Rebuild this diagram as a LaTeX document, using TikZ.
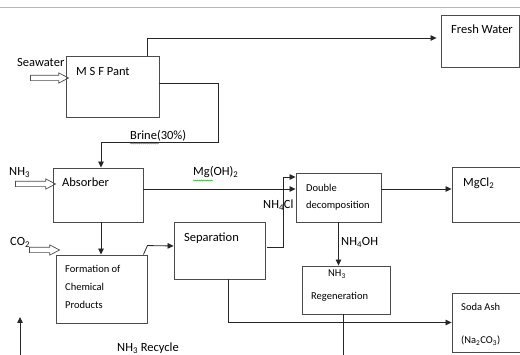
\documentclass[tikz,border=0pt]{standalone}
\usepackage{fontspec}
\setmainfont{Carlito}
\usepackage{tikz}
\usetikzlibrary{arrows.meta,positioning,calc,shapes.arrows,decorations.pathmorphing}
\definecolor{hdrblue}{RGB}{160,185,222}
\definecolor{edge}{RGB}{75,75,75}
\tikzset{
  box/.style={rectangle,draw=edge,line width=0.9pt,inner sep=0pt},
  big/.style={inner sep=0pt,anchor=base west,font=\fontsize{12.5}{14}\selectfont},
  sm/.style={inner sep=0pt,anchor=base west,font=\fontsize{10.5}{12}\selectfont},
  flow/.style={draw=black!85,line width=0.8pt,-{Triangle[length=6pt,width=5.5pt]}},
  pipe/.style={draw=black!85,line width=0.8pt},
  feed/.style={single arrow,draw=edge,line width=0.7pt,inner sep=2.3pt,
    single arrow head extend=2.4pt,single arrow tip angle=55},
  spell/.style={draw=green!65!black,line width=0.4pt,decorate,
    decoration={snake,amplitude=0.5pt,segment length=2pt}},
}

\begin{document}
\begin{tikzpicture}[x=1pt,y=-1pt]
  \useasboundingbox (0,0) rectangle (520,355);
  \draw[hdrblue,line width=0.8pt] (0,7) -- (520,7);

  % units
  \node[box,minimum width=93pt,minimum height=61pt] (msf) at (112.5,86.5) {};
  \node[box,minimum width=78pt,minimum height=52pt] (fresh) at (480,41) {};
  \node[box,minimum width=90pt,minimum height=54pt] (absorber) at (98,195) {};
  \node[box,minimum width=91pt,minimum height=68pt] (form) at (101.5,289) {};
  \node[box,minimum width=91pt,minimum height=57pt] (sep) at (219.5,250.5) {};
  \node[box,minimum width=85pt,minimum height=49pt] (dd) at (338.5,197.5) {};
  \node[box,minimum width=70pt,minimum height=55pt] (mgcl) at (487,194.5) {};
  \node[box,minimum width=88pt,minimum height=48pt] (regen) at (346,290) {};
  \node[box,minimum width=70pt,minimum height=59pt] (soda) at (487,322.5) {};

  % feeds
  \node[feed,minimum height=38pt] (seafeed) at (47,78) {};
  \node[feed,minimum height=40pt] (nh3feed) at (33,184) {};
  \node[feed,minimum height=30pt] (co2feed) at (42,250) {};

  % labels
  \node[big] (sealbl) at (17,67) {Seawater};
  \node[big] (msflbl) at (76,75.5) {M S F Pant};
  \node[big] (freshlbl) at (451,34) {Fresh Water};
  \node[big] (brinelbl) at (130,140) {Brine(30\%)};
  \node[big] (nh3lbl) at (9,176) {NH\textsubscript{3}};
  \node[big] (abslbl) at (62,187) {Absorber};
  \node[big] (mglbl) at (193,176) {Mg(OH)\textsubscript{2}};
  \node[big] (co2lbl) at (10,246) {CO\textsubscript{2}};
  \node[big] (seplbl) at (184,242) {Separation};
  \node[big] (nh4cllbl) at (263,208.5) {NH\textsubscript{4}Cl};
  \node[big] (mgcllbl) at (463,186.5) {MgCl\textsubscript{2}};
  \node[big] (nh4ohlbl) at (341,245.5) {NH\textsubscript{4}OH};
  \node[big] (recyclbl) at (117,351.5) {NH\textsubscript{3} Recycle};
  \node[sm] (ddlbla) at (306,192) {Double};
  \node[sm] (ddlblb) at (306,208.5) {decomposition};
  \node[sm] (formlbla) at (65,273) {Formation of};
  \node[sm] (formlblb) at (65,291) {Chemical};
  \node[sm] (formlblc) at (65,309) {Products};
  \node[sm] (regenlbla) at (328,277) {NH\textsubscript{3}};
  \node[sm] (regenlblb) at (311,300) {Regeneration};
  \node[sm] (sodalbla) at (461,311) {Soda Ash};
  \node[sm] (sodalblb) at (461,344) {(Na\textsubscript{2}CO\textsubscript{3})};
  \draw[spell] (130,143.5) -- (159,143.5);
  \draw[spell] (193,180.5) -- (213,180.5);

  % streams
  \coordinate (brinebend) at (218,142);
  \coordinate (regenout) at (343,360);
  \coordinate (recycfoot) at (20,360);
  \coordinate (recyctip) at (20,317);
  \draw[flow,shorten >=4pt] ([xshift=34.5pt]msf.north) |- ([yshift=3pt]fresh.west);
  \draw[flow] ([yshift=3.5pt]msf.east) -| (brinebend) -| ([xshift=3pt]absorber.north);
  \draw[flow] ([xshift=3pt]absorber.south) -- ([xshift=3pt]absorber.south |- form.north);
  \draw[flow] ([yshift=6pt]absorber.east) -- ([yshift=6pt]absorber.east -| dd.west);
  \draw[flow] ([xshift=-4pt]form.north east) -- ++(4,-9) -- ([yshift=4.5pt]sep.west);
  \draw[flow] ([xshift=2pt,yshift=3.5pt]sep.east) -- ++(16,0) |- ([yshift=20.5pt]dd.west);
  \draw[flow] ([yshift=8.5pt]dd.east) -- ([yshift=8.5pt]dd.east -| mgcl.west);
  \draw[flow] (dd.south) -- (dd.south |- regen.north);
  \draw[flow] ([xshift=8.5pt]sep.south) |- (soda.west);
  \draw[pipe] (regenout |- regen.south) -- (regenout);
  \draw[flow] (recycfoot) -- (recyctip);
\end{tikzpicture}
\end{document}
